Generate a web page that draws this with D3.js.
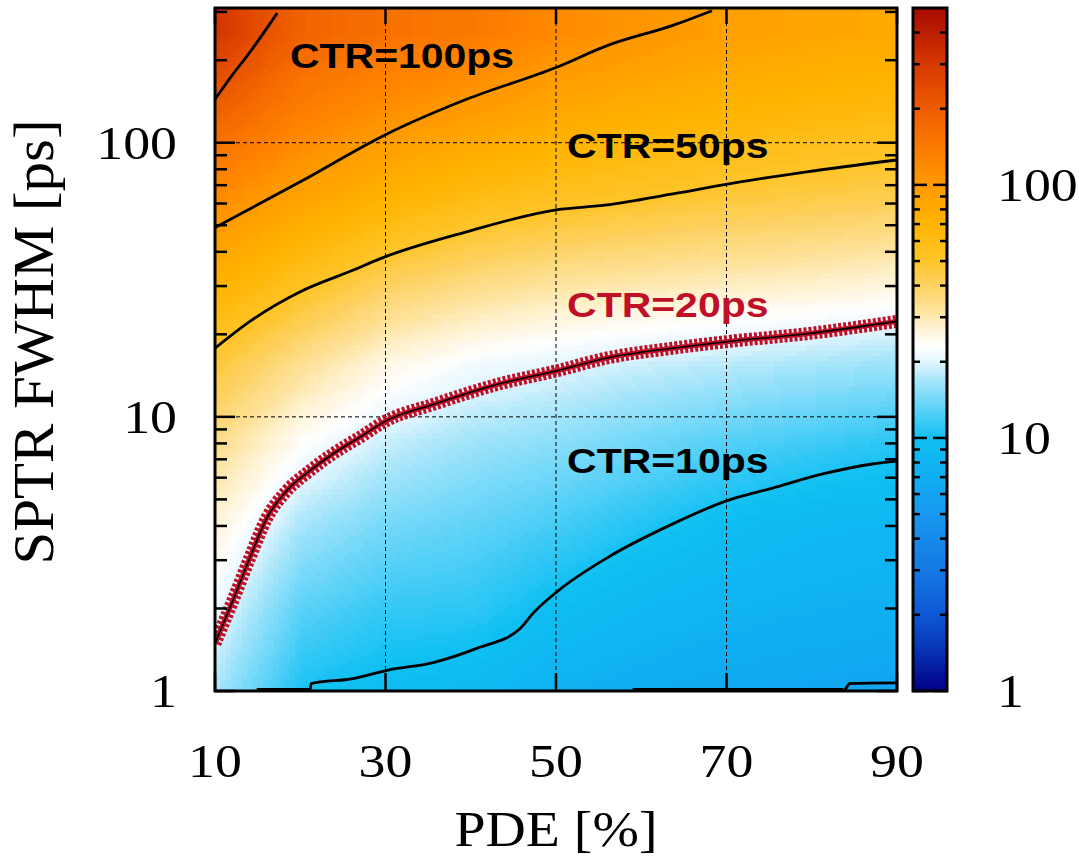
<!DOCTYPE html>
<html>
<head>
<meta charset="utf-8">
<script src="https://cdn.jsdelivr.net/npm/d3@7"></script>
<style>
  html, body { margin: 0; padding: 0; background: #fff; }
  svg { display: block; }
</style>
</head>
<body>
<svg id="chart" width="1079" height="858"></svg>
<script>
const pdeCols = [10, 20, 30, 40, 50, 60, 70, 80, 90];
const sptrRows = [256, 128, 64, 32, 16, 8, 4, 2, 1];   // top to bottom
const ctrGrid = [
  [310, 183, 160, 143, 119, 104, 92, 86, 82],
  [185, 134, 110, 95, 82, 75, 69, 64, 61],
  [118, 89, 71, 60, 54, 50.4, 47.5, 45, 42.6],
  [74, 54, 42, 35.7, 32.8, 30.7, 29.3, 28.1, 26.7],
  [47, 33.4, 25.7, 22.3, 20.7, 19.2, 18.1, 17.4, 16.6],
  [34, 23, 18.4, 16.3, 15.3, 13.9, 12.6, 11.7, 10.9],
  [26, 17, 14.4, 13.3, 12.1, 10.6, 9.4, 8.8, 8.4],
  [21, 13, 11.5, 11.2, 9.6, 8.6, 8.0, 7.6, 7.3],
  [17, 10.5, 9.3, 8.9, 7.6, 7.0, 6.6, 6.3, 6.1]
];

// contour lines [PDE, SPTR]
const ctr200 = [[10, 144], [12, 176], [14.1, 214], [17.3, 297]];
const ctr100 = [[10, 49], [20, 72], [30, 107], [39.5, 144], [50, 188], [56, 226], [63.7, 268], [68.3, 303]];
const ctr50 = [[10, 17.8], [14.1, 22.3], [20, 28.6], [25.8, 33.9], [30, 38.4], [39.5, 47.3], [50, 56.9],
  [56, 59.3], [63.7, 65], [71.6, 71.9], [79.4, 78.3], [90, 86.5]];
const ctr20 = [[10, 1.49], [12.1, 2.14], [14.1, 3.07], [16.1, 4.29], [18.4, 5.37], [21.1, 6.35], [23.8, 7.32],
  [27, 8.43], [30, 9.65], [35.6, 11.1], [43.4, 13.2], [50, 14.7], [56, 16.4], [63.7, 17.8], [70, 18.8],
  [79.4, 20.1], [90, 22.3]];
const ctr10 = [[14.9, 1], [21.1, 1], [21.3, 1.065], [26.2, 1.11], [30.2, 1.19], [35.6, 1.27], [40.7, 1.43],
  [45.8, 1.69], [47.3, 1.92], [50.1, 2.3], [56, 3.06], [63.7, 4.07], [70, 4.94], [75.4, 5.5], [81.3, 6.19],
  [87.1, 6.73], [90, 6.9]];
const ctr5 = [[59, 1], [83.7, 1], [84.5, 1.065], [90, 1.07]];

// colour map of the colour box
const colorStops = [1, 1.5, 2, 3, 5, 7, 10, 13, 17, 20, 23, 27, 32, 40, 50, 70, 100, 130, 200, 300, 500];
const colorList = ["#000088", "#0838b8", "#0d58d4", "#1478e4", "#1898ee", "#10aef2", "#10c0f3", "#5cd2f8",
  "#a8e6fb", "#e2f6fd", "#ffffff", "#fff3d4", "#fee39c", "#fdd262", "#ffc52a", "#ffb400", "#ff9a00",
  "#ff8200", "#ee5c00", "#d63800", "#a80a00"];

// tick labels
const xLabels = [10, 30, 50, 70, 90];
const yMajor = [1, 10, 100];
const yMinor = [2, 3, 4, 5, 6, 7, 8, 9, 20, 30, 40, 50, 60, 70, 80, 90, 200, 300];
const cbMajor = [1, 10, 100];
const cbMinor = [2, 3, 4, 5, 6, 7, 8, 9, 20, 30, 40, 50, 60, 70, 80, 90, 200, 300, 400];
const gridX = [30, 50, 70];
const gridY = [10, 100];

const labels = [
  { text: "CTR=100ps", pde: 18.8, sptr: 187, red: false },
  { text: "CTR=50ps", pde: 51.3, sptr: 88, red: false },
  { text: "CTR=20ps", pde: 51.3, sptr: 23.1, red: true },
  { text: "CTR=10ps", pde: 51.3, sptr: 6.24, red: false }
];

const svg = d3.select("#chart");
const defs = svg.append("defs");
const x = d3.scaleLinear().domain([10, 90]).range([215, 897]);
const y = d3.scaleLog().domain([1, 310]).range([691, 8]);
const cy = d3.scaleLog().domain([1, 500]).range([691, 8]);
const color = d3.scaleLog().domain(colorStops).range(colorList).clamp(true);
// CTR -> 0..1 (log), used to carry values through the smooth image
const level = d3.scaleLog().domain([1, 500]).range([0, 1]).clamp(true);

const serif = "'Liberation Serif', 'Times New Roman', serif";
const sans = "'Liberation Sans', Arial, sans-serif";
const red = "#c01028";

defs.append("clipPath").attr("id", "plotClip")
  .append("rect")
  .attr("x", x(10)).attr("y", y(310))
  .attr("width", x(90) - x(10)).attr("height", y(1) - y(310));

// colour map as a filter: grey level -> colour
const nTab = 200;
const samples = d3.range(nTab).map(i => d3.rgb(color(level.invert(i / (nTab - 1)))));
const cmap = defs.append("filter").attr("id", "cmap")
  .attr("color-interpolation-filters", "sRGB")
  .append("feComponentTransfer");
["R", "G", "B"].forEach((ch, k) => {
  const key = ["r", "g", "b"][k];
  cmap.append("feFunc" + ch).attr("type", "table")
    .attr("tableValues", samples.map(c => (c[key] / 255).toFixed(4)).join(" "));
});

// heat map: one grey pixel per grid cell, stretched smooth, then coloured
const canvas = document.createElement("canvas");
canvas.width = pdeCols.length;
canvas.height = sptrRows.length;
const ctx = canvas.getContext("2d");
const img = ctx.createImageData(canvas.width, canvas.height);
ctrGrid.forEach((row, r) => {
  row.forEach((v, c) => {
    const g = Math.round(level(v) * 255);
    const i = (r * canvas.width + c) * 4;
    img.data[i] = g; img.data[i + 1] = g; img.data[i + 2] = g; img.data[i + 3] = 255;
  });
});
ctx.putImageData(img, 0, 0);

const halfX = (pdeCols[1] - pdeCols[0]) / 2;
const topS = sptrRows[0] * Math.SQRT2, botS = sptrRows[sptrRows.length - 1] / Math.SQRT2;
svg.append("g").attr("clip-path", "url(#plotClip)")
  .append("image")
  .attr("href", canvas.toDataURL())
  .attr("x", x(pdeCols[0] - halfX))
  .attr("width", x(pdeCols[pdeCols.length - 1] + halfX) - x(pdeCols[0] - halfX))
  .attr("y", y(topS))
  .attr("height", y(botS) - y(topS))
  .attr("preserveAspectRatio", "none")
  .attr("filter", "url(#cmap)");

// dotted grid
const grid = svg.append("g").attr("stroke", "#000").attr("stroke-width", 1).attr("stroke-dasharray", "4,3");
gridX.forEach(v => grid.append("line").attr("x1", x(v)).attr("x2", x(v)).attr("y1", y(310)).attr("y2", y(1)));
gridY.forEach(v => grid.append("line").attr("x1", x(10)).attr("x2", x(90)).attr("y1", y(v)).attr("y2", y(v)));

// contours
const line = d3.line().x(d => x(d[0])).y(d => y(d[1])).curve(d3.curveMonotoneX);
const cont = svg.append("g").attr("clip-path", "url(#plotClip)");
[ctr200, ctr100, ctr50, ctr10, ctr5].forEach(c => {
  cont.append("path").attr("d", line(c)).attr("fill", "none")
    .attr("stroke", "#000").attr("stroke-width", 2.8);
});
// bold pieces lying on the lower border
cont.append("path").attr("d", line(ctr10.slice(0, 2))).attr("stroke", "#000").attr("stroke-width", 6);
cont.append("path").attr("d", line(ctr5.slice(0, 2))).attr("stroke", "#000").attr("stroke-width", 6);

// CTR = 20 ps highlighted line
cont.append("path").attr("d", line(ctr20)).attr("fill", "none")
  .attr("stroke", red).attr("stroke-width", 13).attr("stroke-dasharray", "3,2");
cont.append("path").attr("d", line(ctr20)).attr("fill", "none")
  .attr("stroke", red).attr("stroke-width", 5);
cont.append("path").attr("d", line(ctr20)).attr("fill", "none")
  .attr("stroke", "#000").attr("stroke-width", 1.6);

// labels in plot
labels.forEach(l => {
  svg.append("text")
    .attr("transform", `translate(${x(l.pde)},${y(l.sptr)}) scale(1.17,1)`)
    .attr("font-family", sans).attr("font-weight", "bold").attr("font-size", 35)
    .attr("fill", l.red ? red : "#000")
    .text(l.text);
});

// ticks on the plot frame (inward)
const ticks = svg.append("g").attr("stroke", "#000").attr("stroke-width", 2.5);
yMajor.concat(yMinor).forEach(v => {
  const len = yMajor.includes(v) ? 20 : 12;
  ticks.append("line").attr("x1", x(10)).attr("x2", x(10) + len).attr("y1", y(v)).attr("y2", y(v));
  ticks.append("line").attr("x1", x(90)).attr("x2", x(90) - len).attr("y1", y(v)).attr("y2", y(v));
});
xLabels.forEach(v => {
  ticks.append("line").attr("x1", x(v)).attr("x2", x(v)).attr("y1", y(1)).attr("y2", y(1) - 18);
  ticks.append("line").attr("x1", x(v)).attr("x2", x(v)).attr("y1", y(310)).attr("y2", y(310) + 16);
});

// plot frame
svg.append("rect")
  .attr("x", x(10)).attr("y", y(310))
  .attr("width", x(90) - x(10)).attr("height", y(1) - y(310))
  .attr("fill", "none").attr("stroke", "#000").attr("stroke-width", 3);

// tick labels
xLabels.forEach(v => {
  svg.append("text")
    .attr("transform", `translate(${x(v)},777) scale(1.17,1)`)
    .attr("text-anchor", "middle")
    .attr("font-family", serif).attr("font-size", 46)
    .text(v);
});
yMajor.forEach(v => {
  svg.append("text")
    .attr("transform", `translate(177,${y(v) + 16}) scale(1.17,1)`)
    .attr("text-anchor", "end")
    .attr("font-family", serif).attr("font-size", 46)
    .text(v);
});

// axis titles
svg.append("text")
  .attr("transform", "translate(53,342) rotate(-90)")
  .attr("text-anchor", "middle")
  .attr("font-family", serif).attr("font-size", 56)
  .attr("textLength", 445).attr("lengthAdjust", "spacingAndGlyphs")
  .text("SPTR FWHM [ps]");
svg.append("text")
  .attr("x", x(50)).attr("y", 846)
  .attr("text-anchor", "middle")
  .attr("font-family", serif).attr("font-size", 50)
  .attr("textLength", 203).attr("lengthAdjust", "spacingAndGlyphs")
  .text("PDE [%]");

// colour box
const cbX = 913, cbW = 34;
const grad = defs.append("linearGradient")
  .attr("id", "cbGrad").attr("x1", 0).attr("x2", 0).attr("y1", 0).attr("y2", 1);
// stops must go top -> bottom
colorStops.slice().reverse().forEach(v => {
  grad.append("stop")
    .attr("offset", (cy(v) - cy(500)) / (cy(1) - cy(500)))
    .attr("stop-color", color(v));
});
svg.append("rect")
  .attr("x", cbX).attr("y", cy(500)).attr("width", cbW).attr("height", cy(1) - cy(500))
  .attr("fill", "url(#cbGrad)");
const cbT = svg.append("g").attr("stroke", "#000").attr("stroke-width", 2.5);
cbMajor.concat(cbMinor).forEach(v => {
  const len = cbMajor.includes(v) ? 14 : 7;
  cbT.append("line").attr("x1", cbX).attr("x2", cbX + len).attr("y1", cy(v)).attr("y2", cy(v));
  cbT.append("line").attr("x1", cbX + cbW).attr("x2", cbX + cbW - len).attr("y1", cy(v)).attr("y2", cy(v));
});
svg.append("rect")
  .attr("x", cbX).attr("y", cy(500)).attr("width", cbW).attr("height", cy(1) - cy(500))
  .attr("fill", "none").attr("stroke", "#000").attr("stroke-width", 3);
cbMajor.forEach(v => {
  svg.append("text")
    .attr("transform", `translate(997,${cy(v) + 16}) scale(1.17,1)`)
    .attr("font-family", serif).attr("font-size", 46)
    .text(v);
});
</script>
</body>
</html>
